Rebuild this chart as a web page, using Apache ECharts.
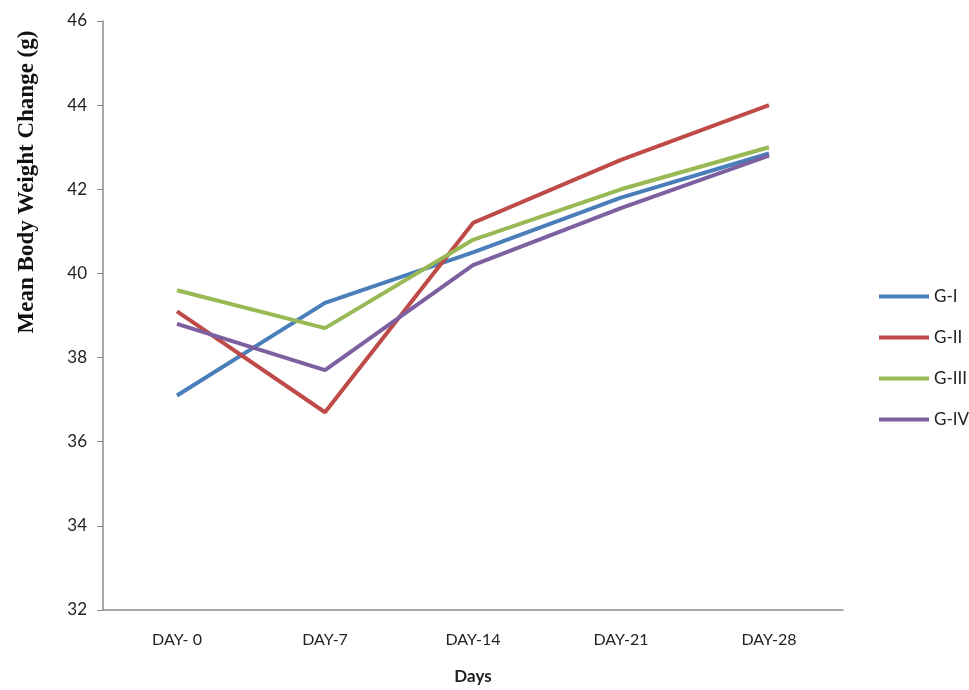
<!DOCTYPE html>
<html>
<head>
<meta charset="utf-8">
<script src="https://cdn.jsdelivr.net/npm/echarts@6/dist/echarts.min.js"></script>
<style>html,body{margin:0;padding:0;background:#fff}#c{width:969px;height:690px}</style>
</head>
<body>
<div id="c"></div>
<script>
const categories = ['DAY- 0', 'DAY-7', 'DAY-14', 'DAY-21', 'DAY-28'];
const gI = [37.1, 39.3, 40.5, 41.8, 42.85];
const gII = [39.1, 36.7, 41.2, 42.7, 44.0];
const gIII = [39.6, 38.7, 40.8, 42.0, 43.0];
const gIV = [38.8, 37.7, 40.2, 41.55, 42.8];
const seriesNames = ['G-I', 'G-II', 'G-III', 'G-IV'];
const colors = ['#4a7ebb', '#be4b48', '#98b954', '#7d60a0'];

const chart = echarts.init(document.getElementById('c'));
const font = 'Lato, "Open Sans", sans-serif';
const mk = (name, data, i) => ({
  name, type: 'line', data, symbol: 'none',
  lineStyle: { width: 4, color: colors[i] }, itemStyle: { color: colors[i] }
});
chart.setOption({
  animation: false,
  backgroundColor: '#fff',
  grid: { left: 103, top: 21, right: 126, bottom: 78 },
  legend: {
    orient: 'vertical', left: 874, top: 283,
    icon: 'rect', itemWidth: 50, itemHeight: 4, itemGap: 24,
    textStyle: { fontFamily: font, fontSize: 17, color: '#222' },
    data: seriesNames
  },
  xAxis: {
    type: 'category', data: categories, boundaryGap: true,
    axisLine: { lineStyle: { color: '#8c8c8c', width: 1.5 } },
    axisTick: { show: false },
    axisLabel: { fontFamily: font, fontSize: 16, color: '#222', margin: 22 },
    name: 'Days', nameLocation: 'middle', nameGap: 58,
    nameTextStyle: { fontFamily: font, fontSize: 17, fontWeight: 'bold', color: '#222' }
  },
  yAxis: {
    type: 'value', min: 32, max: 46, interval: 2,
    axisLine: { show: true, lineStyle: { color: '#8c8c8c', width: 1.5 } },
    axisTick: { show: true, length: 6, lineStyle: { color: '#8c8c8c' } },
    splitLine: { show: false },
    axisLabel: { fontFamily: font, fontSize: 17, color: '#222', margin: 16 }
  },
  graphic: [{
    type: 'text', x: 27, y: 182, rotation: Math.PI / 2,
    style: {
      text: 'Mean Body Weight Change (g)', fill: '#111',
      font: 'bold 23px "Liberation Serif", "Times New Roman", serif',
      align: 'center', verticalAlign: 'middle'
    }
  }],
  series: [mk('G-I', gI, 0), mk('G-II', gII, 1), mk('G-III', gIII, 2), mk('G-IV', gIV, 3)]
});
</script>
</body>
</html>
